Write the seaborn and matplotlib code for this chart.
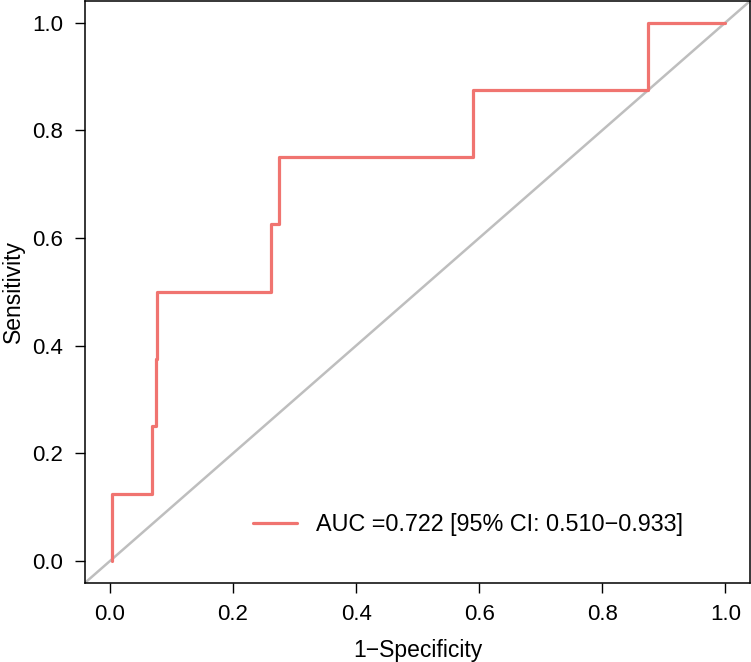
import matplotlib
matplotlib.use("Agg")
import matplotlib.pyplot as plt
import seaborn as sns
import pandas as pd

# ROC step points (false positive rate, true positive rate)
fpr = [0.004, 0.004, 0.069, 0.069, 0.075, 0.075, 0.077, 0.077, 0.261, 0.261,
       0.274, 0.274, 0.590, 0.590, 0.874, 0.874, 1.000]
tpr = [0.000, 0.125, 0.125, 0.250, 0.250, 0.375, 0.375, 0.500, 0.500, 0.625,
       0.625, 0.750, 0.750, 0.875, 0.875, 1.000, 1.000]
auc_label = "AUC =0.722 [95% CI: 0.510\u22120.933]"
ticks = [0.0, 0.2, 0.4, 0.6, 0.8, 1.0]

sns.set_style("ticks")
plt.rcParams['font.family'] = ['Liberation Sans', 'DejaVu Sans']
plt.rcParams['text.color'] = 'black'

fig = plt.figure(figsize=(7.51, 6.62), dpi=100)
ax = fig.add_axes([0.1136, 0.120, 0.8851, 0.8785])

# reference diagonal
ax.axline((0, 0), (1, 1), color="#BEBEBE", lw=1.8, zorder=1)

roc = pd.DataFrame({"fpr": fpr, "tpr": tpr})
sns.lineplot(data=roc, x="fpr", y="tpr", sort=False, estimator=None,
             color="#F07470", lw=2.3, label=auc_label, ax=ax, zorder=2)

ax.set_xlim(-0.04, 1.04)
ax.set_ylim(-0.04, 1.04)
ax.set_xticks(ticks)
ax.set_yticks(ticks)
ax.set_xticklabels([f"{t:.1f}" for t in ticks])
ax.set_yticklabels([f"{t:.1f}" for t in ticks])
ax.tick_params(axis="both", length=7.2, width=1.0, labelsize=16,
               color="black", labelcolor="black")
ax.tick_params(axis="x", pad=8.2)
ax.tick_params(axis="y", pad=8.9)

for side in ["left", "right", "top", "bottom"]:
    ax.spines[side].set_visible(True)
    ax.spines[side].set_color("black")
    ax.spines[side].set_linewidth(1.1)

ax.set_xlabel("1\u2212Specificity", fontsize=16.5, color="black")
ax.set_ylabel("Sensitivity", fontsize=16.5, color="black")
ax.xaxis.set_label_coords(0.5, -0.097)
ax.yaxis.set_label_coords(-0.0912, 0.5)

ax.legend(loc="center left", bbox_to_anchor=(0.252, 0.099), frameon=False,
          fontsize=16.8, handlelength=1.9, handletextpad=0.8,
          borderpad=0, borderaxespad=0)

fig.savefig("out.png", dpi=100)
